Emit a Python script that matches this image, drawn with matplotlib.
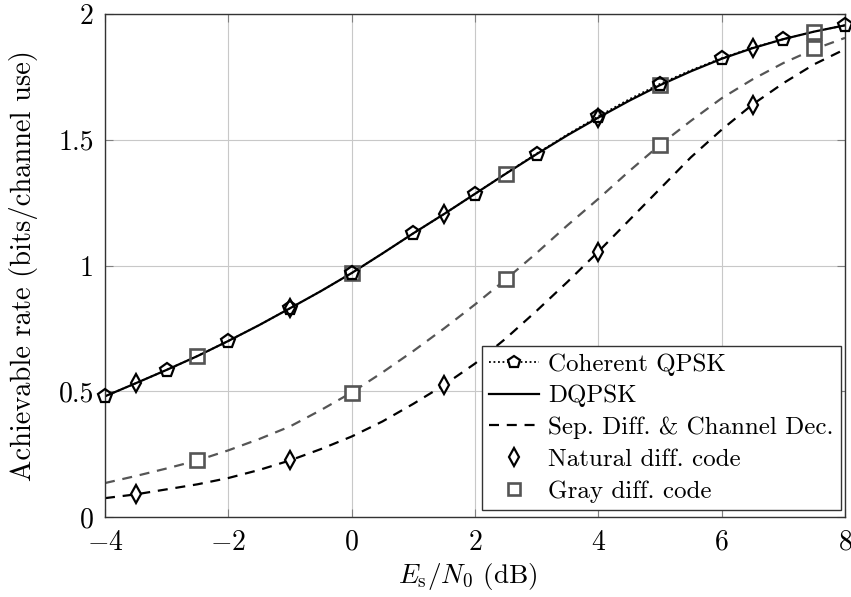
import matplotlib
matplotlib.use("Agg")
from matplotlib import pyplot as plt
from matplotlib.lines import Line2D

plt.rcParams["font.family"] = "serif"
plt.rcParams["font.serif"] = ["cmr10", "DejaVu Serif"]
plt.rcParams["mathtext.fontset"] = "cm"
plt.rcParams["axes.formatter.use_mathtext"] = True
plt.rcParams["axes.unicode_minus"] = True

# curves sampled every 0.5 dB
snr = [-4, -3.5, -3, -2.5, -2, -1.5, -1, -0.5, 0, 0.5, 1, 1.5, 2, 2.5, 3, 3.5,
       4, 4.5, 5, 5.5, 6, 6.5, 7, 7.5, 8]
dqpsk = [0.48, 0.532, 0.585, 0.64, 0.70, 0.763, 0.83, 0.898, 0.97, 1.048, 1.128,
         1.205, 1.285, 1.365, 1.443, 1.518, 1.588, 1.655, 1.717, 1.772, 1.822,
         1.864, 1.90, 1.93, 1.955]
coherent = [0.48, 0.532, 0.585, 0.64, 0.70, 0.763, 0.83, 0.898, 0.97, 1.048, 1.128,
            1.205, 1.285, 1.366, 1.445, 1.521, 1.593, 1.661, 1.722, 1.776, 1.824,
            1.866, 1.90, 1.93, 1.955]
sep_gray = [0.135, 0.163, 0.193, 0.225, 0.265, 0.31, 0.36, 0.425, 0.495, 0.575,
            0.66, 0.75, 0.845, 0.945, 1.05, 1.16, 1.265, 1.375, 1.48, 1.575, 1.665,
            1.74, 1.805, 1.86, 1.905]
sep_nat = [0.075, 0.09, 0.11, 0.13, 0.155, 0.187, 0.225, 0.27, 0.32, 0.38, 0.45,
           0.525, 0.61, 0.71, 0.82, 0.935, 1.055, 1.18, 1.305, 1.43, 1.54, 1.64,
           1.725, 1.80, 1.86]

# marker points
coh_x = [-4, -3, -2, -1, 0, 1, 2, 3, 4, 5, 6, 7, 8]
coh_y = [0.48, 0.585, 0.70, 0.83, 0.97, 1.128, 1.285, 1.445, 1.593, 1.722, 1.824, 1.90, 1.955]
nat_x = [-3.5, -1, 1.5, 4, 6.5]
nat_joint = [0.532, 0.83, 1.205, 1.588, 1.864]
nat_sep = [0.09, 0.225, 0.525, 1.055, 1.64]
gray_x = [-2.5, 0, 2.5, 5, 7.5]
gray_joint = [0.64, 0.97, 1.365, 1.717, 1.93]
gray_sep = [0.225, 0.495, 0.945, 1.48, 1.865]

gray_col = "#555555"

fig = plt.figure(figsize=(8.51, 5.97), dpi=100)
fig.set_facecolor("w")
ax = fig.add_axes([105 / 851, 80 / 597, 740 / 851, 503 / 597])

ax.plot(snr, coherent, color="black", lw=1.3, ls=(0, (1, 1.5)))
ax.plot(snr, dqpsk, color="black", lw=1.6)
ax.plot(snr, sep_gray, color=gray_col, lw=1.6, ls=(0, (4.5, 3.5)))
ax.plot(snr, sep_nat, color="black", lw=1.6, ls=(0, (4.5, 3.5)))

ax.plot(coh_x, coh_y, ls="none", marker="p", ms=10, mfc="none", mec="black",
        mew=1.6, clip_on=False, zorder=4)
ax.plot(nat_x, nat_joint, ls="none", marker="d", ms=9, mfc="none", mec="black", mew=1.6)
ax.plot(nat_x, nat_sep, ls="none", marker="d", ms=9, mfc="white", mec="black", mew=1.6)
ax.plot(gray_x, gray_joint, ls="none", marker="s", ms=9.5, mfc="none", mec=gray_col, mew=1.9)
ax.plot(gray_x, gray_sep, ls="none", marker="s", ms=9.5, mfc="white", mec=gray_col, mew=1.9)

ax.set_xlim(-4, 8)
ax.set_ylim(0, 2)
ax.set_xticks([-4, -2, 0, 2, 4, 6, 8])
ax.set_yticks([0, 0.5, 1, 1.5, 2])
ax.set_yticklabels(["0", "0.5", "1", "1.5", "2"])
ax.grid(True, color="#c8c8c8", lw=0.8)
ax.set_axisbelow(True)
ax.tick_params(direction="in", top=True, right=True, length=6, color="#808080",
               labelsize=20)
ax.tick_params(axis="x", pad=9)
ax.tick_params(axis="y", pad=8)
for sp in ax.spines.values():
    sp.set_color("#333333")
    sp.set_linewidth(1.0)

ax.set_xlabel(r"$E_{\mathrm{s}}/N_0$ (dB)", fontsize=19.5)
ax.set_ylabel("Achievable rate (bits/channel use)", fontsize=20.5)
ax.xaxis.set_label_coords(0.49, -0.087)
ax.yaxis.set_label_coords(-0.09, 0.5)

handles = [
    Line2D([], [], color="black", lw=1.3, ls=(0, (1, 1.5)), marker="p", ms=9,
           mfc="white", mec="black", mew=1.6),
    Line2D([], [], color="black", lw=1.6),
    Line2D([], [], color="black", lw=1.6, ls=(0, (4.5, 3.5))),
    Line2D([], [], ls="none", marker="d", ms=9, mfc="white", mec="black", mew=1.6),
    Line2D([], [], ls="none", marker="s", ms=9, mfc="white", mec=gray_col, mew=1.9),
]
labels = ["Coherent QPSK", "DQPSK", "Sep. Diff. & Channel Dec.",
          "Natural diff. code", "Gray diff. code"]
leg = ax.legend(handles, labels, loc="lower right", fontsize=18, fancybox=False,
                framealpha=1, edgecolor="#333333", handlelength=2.0,
                handletextpad=0.35, borderpad=0.3, labelspacing=0.37,
                bbox_to_anchor=(0.9946, 0.0139), borderaxespad=0)
leg.get_frame().set_linewidth(1.0)

fig.savefig("out.png")
plt.close(fig)
